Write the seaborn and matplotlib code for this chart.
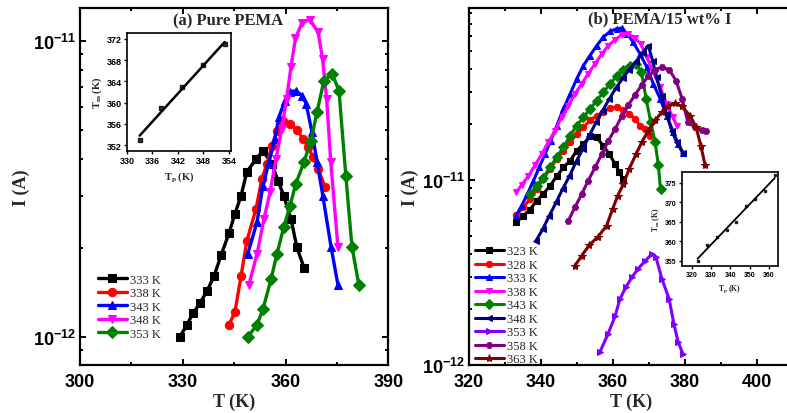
import numpy as np
import matplotlib
matplotlib.use('Agg')
import matplotlib.pyplot as plt
import seaborn as sns
from matplotlib.ticker import FixedLocator, FuncFormatter, NullFormatter, LogLocator, MultipleLocator

sns.set_theme(style='ticks')
plt.rcParams['font.family'] = ['Liberation Sans', 'DejaVu Sans']
plt.rcParams['mathtext.fontset'] = 'custom'
plt.rcParams['mathtext.bf'] = 'Liberation Sans:bold'
plt.rcParams['mathtext.rm'] = 'Liberation Serif:bold'
plt.rcParams['mathtext.it'] = 'Liberation Serif:bold'
plt.rcParams['axes.edgecolor'] = 'black'
plt.rcParams['xtick.color'] = 'black'
plt.rcParams['ytick.color'] = 'black'

# ---------------- data: panel (a) pure PEMA (I in units of 1e-12 A) ----------------
T_a333 = [329.2, 331.2, 333.0, 335.0, 337.1, 339.1, 341.2, 343.5, 345.2, 347.0, 348.7, 351.4, 353.4, 356.0, 357.8, 359.5, 361.6, 363.3, 365.4]
I_a333 = [1.00, 1.10, 1.20, 1.30, 1.43, 1.60, 1.89, 2.24, 2.60, 2.99, 3.61, 3.99, 4.25, 3.85, 3.37, 2.99, 2.50, 2.01, 1.71]
T_a338 = [343.5, 345.2, 347.0, 348.7, 351.4, 353.1, 354.6, 356.0, 357.5, 359.3, 361.3, 363.3, 365.1, 366.5, 368.0, 369.5, 371.5]
I_a338 = [1.10, 1.21, 1.60, 2.11, 2.71, 3.42, 3.85, 4.42, 4.97, 5.37, 5.25, 5.01, 4.67, 4.38, 4.06, 3.70, 3.21]
T_a343 = [349.0, 351.7, 353.4, 355.2, 356.9, 358.1, 359.8, 361.3, 363.0, 364.8, 366.0, 367.7, 369.2, 370.9, 373.3, 375.3]
I_a343 = [1.91, 2.45, 3.24, 3.90, 4.67, 5.54, 6.28, 6.73, 6.78, 6.53, 6.14, 4.93, 3.90, 2.99, 2.01, 1.50]
T_a348 = [349.3, 351.7, 353.7, 355.5, 357.2, 358.9, 360.3, 361.6, 362.9, 364.8, 367.1, 369.5, 370.8, 372.0, 373.2, 375.3]
I_a348 = [1.50, 1.91, 2.50, 3.09, 3.99, 5.05, 6.37, 8.18, 10.2, 11.5, 11.8, 10.7, 8.71, 6.37, 3.90, 2.01]
T_a353 = [349.0, 351.7, 353.4, 355.8, 357.5, 359.5, 361.3, 363.0, 365.4, 367.4, 369.2, 371.2, 373.6, 375.6, 377.6, 379.4, 381.4]
I_a353 = [1.00, 1.10, 1.24, 1.57, 1.91, 2.35, 2.77, 3.29, 3.90, 4.59, 5.76, 7.33, 7.74, 6.79, 3.50, 2.01, 1.50]
labels_a = ['333 K', '338 K', '343 K', '348 K', '353 K']

# ---------------- data: panel (b) PEMA/15 wt% I (I in units of 1e-12 A) ----------------
T_b323 = [333.1, 335.1, 336.9, 338.8, 340.6, 342.5, 344.4, 346.2, 348.1, 349.9, 351.8, 353.6, 355.5, 357.3, 359.0, 360.6, 361.8, 362.7]
I_b323 = [5.90, 6.41, 6.91, 7.73, 8.39, 9.31, 10.5, 11.7, 12.7, 14.4, 15.7, 17.2, 17.0, 15.3, 13.8, 12.2, 11.0, 10.1]
T_b328 = [333.1, 335.1, 336.9, 338.8, 340.6, 342.5, 344.4, 346.2, 348.1, 349.9, 351.8, 353.6, 355.5, 357.3, 359.2, 361.0, 362.9, 364.5, 366.1, 367.5, 368.9, 370.3]
I_b328 = [6.46, 7.11, 7.89, 8.94, 10.1, 11.5, 13.0, 14.4, 16.0, 17.7, 19.3, 21.0, 22.3, 23.4, 24.4, 24.8, 24.0, 22.8, 21.4, 19.7, 18.9, 17.4]
T_b333 = [333.1, 334.6, 336.2, 337.9, 339.5, 341.1, 342.7, 344.4, 346.2, 348.1, 349.9, 351.8, 353.6, 355.5, 357.3, 359.2, 361.0, 362.4, 364.0, 365.6, 367.5, 369.4, 371.2, 373.1, 374.9, 376.8, 378.1, 379.5]
I_b333 = [6.41, 7.26, 8.39, 9.91, 11.7, 13.8, 16.3, 19.7, 24.2, 29.2, 35.2, 41.6, 47.1, 53.3, 59.2, 63.6, 65.7, 66.3, 61.7, 55.6, 48.1, 40.7, 33.1, 27.5, 22.3, 18.1, 15.7, 14.0]
T_b338 = [333.1, 334.6, 336.5, 338.3, 340.2, 342.0, 343.9, 345.7, 347.6, 349.4, 351.3, 353.1, 355.0, 356.9, 358.7, 360.6, 362.4, 364.3, 366.1, 367.7, 369.4, 371.2, 373.1, 374.9, 376.6, 377.9]
I_b338 = [8.57, 9.40, 10.5, 12.0, 13.8, 16.0, 18.5, 21.8, 25.2, 29.2, 33.1, 37.5, 42.5, 48.1, 53.3, 57.4, 60.9, 61.7, 58.5, 54.5, 46.1, 38.3, 31.8, 25.8, 21.8, 19.5]
T_b343 = [336.9, 338.8, 340.6, 342.5, 344.4, 346.2, 348.1, 349.9, 351.8, 353.6, 355.5, 357.3, 359.2, 361.0, 362.9, 364.7, 366.4, 367.9, 369.2, 370.5, 371.7, 372.6, 373.2]
I_b343 = [8.39, 9.31, 10.3, 11.7, 13.3, 15.0, 17.4, 19.7, 21.8, 24.2, 26.9, 29.8, 33.1, 36.4, 39.5, 41.6, 42.5, 38.3, 27.5, 20.5, 16.0, 12.0, 8.94]
T_b348 = [338.6, 340.5, 342.3, 344.2, 346.0, 347.9, 349.7, 351.6, 353.4, 355.3, 357.1, 359.0, 360.8, 362.7, 364.5, 366.4, 368.2, 369.8, 371.0, 372.1, 373.5, 374.9, 376.3, 377.7, 379.4]
I_b348 = [4.69, 5.43, 6.41, 7.57, 8.94, 10.5, 12.5, 14.7, 17.4, 20.5, 23.7, 27.5, 31.4, 35.5, 39.5, 43.7, 48.7, 53.3, 44.2, 35.9, 28.6, 22.8, 18.5, 16.0, 14.0]
T_b353 = [356.4, 358.6, 360.6, 361.9, 363.6, 365.3, 366.9, 368.9, 370.8, 371.9, 373.6, 375.6, 376.9, 378.1, 379.4]
I_b353 = [1.18, 1.47, 1.84, 2.27, 2.64, 2.99, 3.30, 3.65, 3.98, 3.84, 2.92, 2.27, 1.67, 1.33, 1.15]
T_b358 = [347.6, 349.4, 351.3, 353.1, 355.0, 356.9, 358.7, 360.6, 362.4, 364.3, 366.1, 368.0, 369.8, 371.7, 373.5, 375.6, 377.5, 379.2, 380.8, 382.8, 384.6, 385.8]
I_b358 = [6.03, 7.11, 8.39, 9.91, 11.7, 13.8, 16.3, 18.9, 22.1, 25.5, 28.8, 32.7, 36.4, 39.5, 40.7, 39.5, 34.5, 27.5, 20.5, 19.3, 18.7, 18.5]
T_b363 = [349.4, 351.3, 353.4, 355.9, 358.2, 359.9, 361.3, 362.9, 364.5, 366.4, 368.0, 369.8, 371.7, 373.5, 375.4, 377.2, 379.1, 381.4, 383.1, 384.4, 385.6]
I_b363 = [3.44, 3.89, 4.45, 4.95, 5.66, 6.97, 8.22, 9.51, 11.5, 13.8, 16.0, 18.5, 21.0, 23.2, 25.2, 26.1, 25.0, 22.3, 19.3, 15.3, 12.0]
labels_b = ['323 K', '328 K', '333 K', '338 K', '343 K', '348 K', '353 K', '358 K', '363 K']

# ---------------- inset data ----------------
Tp_a = [333, 338, 343, 348, 353]
Tm_a = [353, 359, 363, 367, 371]
Tp_b = [323, 328, 333, 338, 343, 348, 353, 358, 363]
Tm_b = [355, 359, 361, 363, 365, 369, 371, 373, 377]

PA = 1e-12
series_a = [(T_a333, I_a333), (T_a338, I_a338), (T_a343, I_a343), (T_a348, I_a348), (T_a353, I_a353)]
series_b = [(T_b323, I_b323), (T_b328, I_b328), (T_b333, I_b333), (T_b338, I_b338), (T_b343, I_b343),
            (T_b348, I_b348), (T_b353, I_b353), (T_b358, I_b358), (T_b363, I_b363)]
colors_a = ['#000000', '#ff0000', '#0000ff', '#ff00ff', '#008000']
markers_a = ['s', 'o', '^', 'v', 'D']
colors_b = ['#000000', '#ff0000', '#0000ff', '#ff00ff', '#008000', '#000080', '#8000ff', '#800080', '#800000']
markers_b = ['s', 'o', '^', 'v', 'D', '<', '>', 'H', '*']

fig = plt.figure(figsize=(7.87, 4.14), dpi=100)
W, H = 787.0, 414.0
def px_axes(x0, y0, x1, y1):
    return fig.add_axes([x0 / W, 1 - y1 / H, (x1 - x0) / W, (y1 - y0) / H])

ax1 = px_axes(80, 9, 388.3, 366)
ax2 = px_axes(469, 9, 793, 366)

serif_bold = dict(family='Liberation Serif', weight='bold')

for (t, i), c, m, lab in zip(series_a, colors_a, markers_a, labels_a):
    sns.lineplot(x=t, y=np.array(i) * PA, ax=ax1, color=c, marker=m, markersize=6,
                 markeredgecolor=c, linewidth=2.4, label=lab, sort=False, estimator=None)
for (t, i), c, m, lab in zip(series_b, colors_b, markers_b, labels_b):
    ms = 6 if m == '*' else 4.6
    sns.lineplot(x=t, y=np.array(i) * PA, ax=ax2, color=c, marker=m, markersize=ms,
                 markeredgecolor=c, linewidth=2.2, label=lab, sort=False, estimator=None)

def log_fmt(v, p):
    return r'$\mathbf{10^{%d}}$' % int(round(np.log10(v)))

for ax in (ax1, ax2):
    ax.set_yscale('log')
    ax.yaxis.set_major_locator(FixedLocator([1e-12, 1e-11]))
    ax.yaxis.set_major_formatter(FuncFormatter(log_fmt))
    ax.yaxis.set_minor_locator(LogLocator(base=10, subs=np.arange(2, 10)))
    ax.yaxis.set_minor_formatter(NullFormatter())
    ax.tick_params(which='both', direction='in', top=True, right=True, width=1.4)
    ax.tick_params(which='major', length=4, labelsize=13, pad=3)
    ax.tick_params(axis='x', which='major', pad=6)
    ax.tick_params(which='minor', length=2.2)
    for s in ax.spines.values():
        s.set_linewidth(1.6)
        s.set_color('black')
    ax.set_xlabel('T (K)', fontsize=13, labelpad=2, **serif_bold)
    ax.set_ylabel('I (A)', fontsize=13, labelpad=2, **serif_bold)

ax1.set_xlim(300, 390)
ax1.xaxis.set_major_locator(FixedLocator([300, 330, 360, 390]))
ax1.xaxis.set_minor_locator(MultipleLocator(15))
ax1.set_ylim(10 ** -12.095, 10 ** -10.889)
ax2.set_xlim(320, 410)
ax2.xaxis.set_major_locator(FixedLocator([320, 340, 360, 380, 400]))
ax2.xaxis.set_minor_locator(MultipleLocator(10))
ax2.set_ylim(1e-12, 10 ** -10.07)
for ax in (ax1, ax2):
    ax.set_xticklabels([str(int(v)) for v in ax.get_xticks()], fontweight='bold', fontsize=13)

ax1.text(0.48, 0.964, '(a) Pure PEMA', transform=ax1.transAxes, ha='center', va='center', fontsize=12, **serif_bold)
ax2.text(0.59, 0.972, '(b) PEMA/15 wt% I', transform=ax2.transAxes, ha='center', va='center', fontsize=12, **serif_bold)

leg_kw = dict(frameon=False, loc='upper left', borderpad=0, borderaxespad=0, handlelength=2.3,
              handletextpad=0.3, labelspacing=0.12, prop=dict(family='Liberation Serif', size=9))
ax1.legend(bbox_to_anchor=(0.058, 0.256), **leg_kw)
ax2.legend(bbox_to_anchor=(0.0185, 0.335), **leg_kw)

# ---------------- insets ----------------
axi1 = px_axes(127, 34, 231, 152)
axi2 = px_axes(681.7, 172.7, 777.7, 266.7)
sns.regplot(x=Tp_a, y=Tm_a, ax=axi1, ci=None, marker='s', color='black',
            scatter_kws=dict(s=7), line_kws=dict(linewidth=1.8))
sns.regplot(x=Tp_b, y=Tm_b, ax=axi2, ci=None, marker='s', color='black',
            scatter_kws=dict(s=4), line_kws=dict(linewidth=1.3))
axi1.set_xlim(330, 354.5)
axi1.set_ylim(350.9, 373.1)
axi1.xaxis.set_major_locator(FixedLocator([330, 336, 342, 348, 354]))
axi1.yaxis.set_major_locator(FixedLocator([352, 356, 360, 364, 368, 372]))
axi2.set_xlim(314.8, 364.5)
axi2.set_ylim(353.7, 377.9)
axi2.xaxis.set_major_locator(FixedLocator([320, 330, 340, 350, 360]))
axi2.yaxis.set_major_locator(FixedLocator([355, 360, 365, 370, 375]))
for axi, fs, lfs in ((axi1, 6.5, 7.5), (axi2, 5, 5.5)):
    axi.set_facecolor('white')
    axi.tick_params(which='both', direction='out', labelsize=fs, width=1.0, length=2.5, pad=1)
    axi.tick_params(which='both', top=False, right=False)
    for lbl in axi.get_xticklabels() + axi.get_yticklabels():
        lbl.set_fontweight('bold')
    for s in axi.spines.values():
        s.set_linewidth(1.2)
        s.set_color('black')
    axi.set_xlabel(r'T$_{\mathrm{p}}$ (K)', fontsize=lfs, labelpad=3, **serif_bold)
    axi.set_ylabel(r'T$_{\mathrm{m}}$ (K)', fontsize=lfs, labelpad=2, **serif_bold)

fig.savefig('out.png', dpi=100)
